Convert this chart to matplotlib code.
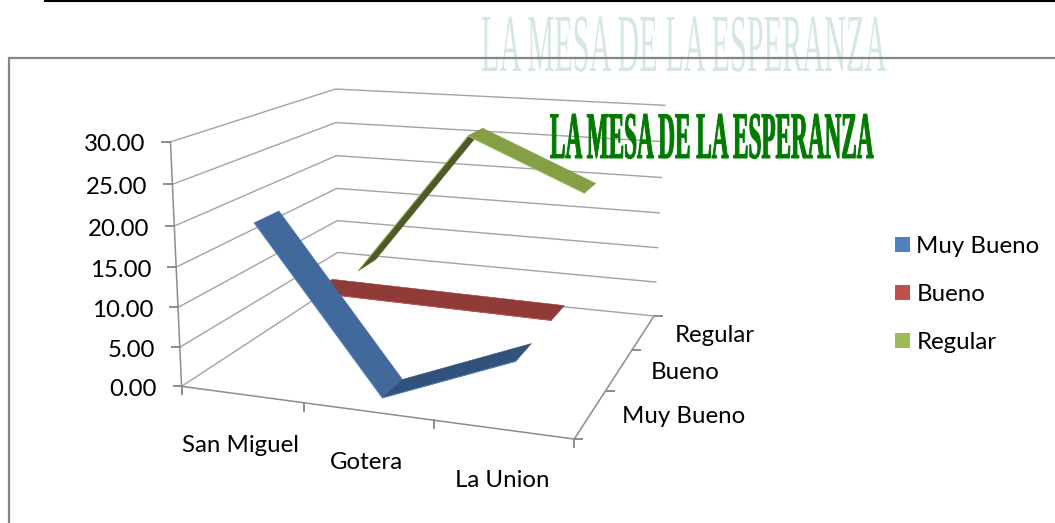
import numpy as np
import matplotlib
matplotlib.use("Agg")
import matplotlib.pyplot as plt
from matplotlib.patches import Patch, Polygon
from matplotlib.patheffects import AbstractPathEffect
from matplotlib.transforms import Affine2D

# Chart data
categories = ["San Miguel", "Gotera", "La Union"]
series_names = ["Muy Bueno", "Bueno", "Regular"]
muy_bueno = [20.0, 0.0, 6.5]
bueno = [7.0, 6.8, 6.6]
regular = [5.8, 26.2, 19.5]
value_ticks = [0, 5, 10, 15, 20, 25, 30]
title_text = "LA MESA DE LA ESPERANZA"

all_values = [muy_bueno, bueno, regular]
face_colors = ["#41699c", "#8f3b38", "#84a045"]
dark_colors = ["#31527a", "#8f3b38", "#4b5a27"]
edge_colors = ["#4f81bd", "#c0504d", "#9bbb59"]
legend_colors = ["#4f81bd", "#c0504d", "#9bbb59"]
grid_color = "#a3a3a3"
axis_color = "#8c8c8c"
FONT = "Lato"
FS = 17.3
ribbon_half = 0.07

# Camera calibration of the 3D box: (x, depth, height) in box units -> picture pixels
box_pts = [(0, 0, 0), (1/3, 0, 0), (2/3, 0, 0), (1, 0, 0),
           (1, 1/3, 0), (1, 2/3, 0), (1, 1, 0), (0, 1, 0),
           (0, 0, 1), (0, 0, 5/6), (0, 0, 2/3), (0, 0, 1/2), (0, 0, 1/3), (0, 0, 1/6),
           (0, 1, 1), (0, 1, 5/6), (0, 1, 2/3), (0, 1, 1/2), (0, 1, 1/3), (0, 1, 1/6),
           (1, 1, 1), (1, 1, 5/6), (1, 1, 2/3), (1, 1, 1/2), (1, 1, 1/3), (1, 1, 1/6)]
pic_pts = [(182, 386), (303, 404), (434, 421), (574, 439),
           (606, 390), (631.5, 350), (655, 315), (338, 284),
           (170, 142), (172, 184), (175, 226), (176.5, 267), (178, 307), (180, 347),
           (336, 89), (336, 122), (336, 156), (336.5, 189), (337, 220), (337.5, 253),
           (665, 105), (663, 142), (661, 178), (659, 213), (657, 248), (656, 282)]


def fit_camera(box, pic):
    rows = []
    rhs = []
    for (x, y, z), (u, v) in zip(box, pic):
        rows.append([x, y, z, 1, 0, 0, 0, 0, -u*x, -u*y, -u*z])
        rhs.append(u)
        rows.append([0, 0, 0, 0, x, y, z, 1, -v*x, -v*y, -v*z])
        rhs.append(v)
    sol = np.linalg.lstsq(np.array(rows, float), np.array(rhs, float), rcond=None)[0]
    return np.append(sol, 1.0).reshape(3, 4)


CAM = fit_camera(box_pts, pic_pts)


def project(x, y, z):
    p = CAM @ np.array([x, y, z, 1.0])
    return p[0] / p[2], p[1] / p[2]


class Stretch(AbstractPathEffect):
    # WordArt look: stretch the glyphs up from the baseline, optional heavier outline
    def __init__(self, k, stroke=0.0):
        super().__init__()
        self.k = k
        self.stroke = stroke

    def draw_path(self, renderer, gc, tpath, affine, rgbFace=None):
        y0 = affine.get_matrix()[1, 2]
        a = affine + Affine2D().translate(0, -y0).scale(1, self.k).translate(0, y0)
        gc0 = renderer.new_gc()
        gc0.copy_properties(gc)
        gc0.set_linewidth(self.stroke)
        gc0.set_foreground(rgbFace)
        renderer.draw_path(gc0, tpath, a, rgbFace)
        gc0.restore()


fig = plt.figure(figsize=(10.55, 5.23), dpi=100)
ax = fig.add_axes([0, 0, 1, 1])
ax.set_xlim(0, 1055)
ax.set_ylim(523, 0)
ax.axis("off")

# pale title behind the frame
t = ax.text(481, 71, title_text, family="Liberation Serif", fontsize=21.8, color="#d5e8de",
            ha="left", va="baseline", zorder=1)
t.set_path_effects([Stretch(2.72)])

# page rule and chart frame
ax.plot([45, 1055], [0.5, 0.5], color="black", lw=1.5, zorder=2)
ax.plot([9, 9, 1055], [523, 58, 58], color="#868686", lw=1.6, zorder=2, solid_joinstyle="miter")

zmax = value_ticks[-1]

# walls
for v in value_ticks:
    z = v / zmax
    pts = [project(0, 0, z), project(0, 1, z), project(1, 1, z)]
    ax.plot([p[0] for p in pts], [p[1] for p in pts], color=grid_color, lw=1.0, zorder=3)
    px, py = project(0, 0, z)
    ax.plot([px - 8, px], [py, py], color=axis_color, lw=1.4, zorder=3)
    ax.text(px - 25, py + 3, "%.2f" % v, family=FONT, fontsize=FS, ha="right", va="center",
            color="black", zorder=6)

# axes lines
for a, b in [((0, 0, 0), (0, 0, 1)), ((0, 0, 0), (1, 0, 0)), ((1, 0, 0), (1, 1, 0))]:
    p, q = project(*a), project(*b)
    ax.plot([p[0], q[0]], [p[1], q[1]], color=axis_color, lw=1.1, zorder=3)

n = len(categories)
for i in range(n + 1):
    px, py = project(i / n, 0, 0)
    ax.plot([px, px], [py, py + 8], color=axis_color, lw=1.4, zorder=3)
for j in range(len(series_names) + 1):
    px, py = project(1, j / len(series_names), 0)
    ax.plot([px, px + 8], [py, py], color=axis_color, lw=1.4, zorder=3)

for i, name in enumerate(categories):
    px, py = project((i + 0.5) / n, 0, 0)
    ax.text(px - 1, py + 51, name, family=FONT, fontsize=FS, ha="center", va="center", zorder=6)
for j, name in enumerate(series_names):
    px, py = project(1, (j + 0.5) / len(series_names), 0)
    ax.text(px + 31, py + 3, name, family=FONT, fontsize=FS, ha="left", va="center", zorder=6)

# ribbons, back series first
for j in reversed(range(len(series_names))):
    vals = all_values[j]
    yc = (j + 0.5) / len(series_names)
    for i in range(n - 1):
        x0 = (i + 0.5) / n
        x1 = (i + 1.5) / n
        z0 = vals[i] / zmax
        z1 = vals[i + 1] / zmax
        quad = [project(x0, yc - ribbon_half, z0), project(x1, yc - ribbon_half, z1),
                project(x1, yc + ribbon_half, z1), project(x0, yc + ribbon_half, z0)]
        col = dark_colors[j] if vals[i + 1] > vals[i] else face_colors[j]
        ax.add_patch(Polygon(quad, closed=True, facecolor=col, edgecolor=col,
                             lw=0.4, zorder=4 + (2 - j) * 0.1))
        ax.plot([quad[0][0], quad[1][0]], [quad[0][1], quad[1][1]], color=edge_colors[j],
                lw=0.7, zorder=4 + (2 - j) * 0.1)

# green title
t = ax.text(550, 158, title_text, family="Liberation Serif", fontsize=16.7, weight="bold",
            color="#007a00", ha="left", va="baseline", zorder=7)
t.set_path_effects([Stretch(2.87, stroke=0.7)])

handles = [Patch(facecolor=c, edgecolor="none") for c in legend_colors]
ax.legend(handles, series_names, loc="upper left", bbox_to_anchor=(890 / 1055, 1 - 231 / 523),
          frameon=False, prop={"family": FONT, "size": FS}, handlelength=0.62, handleheight=0.62,
          handletextpad=0.28, labelspacing=1.13, borderpad=0.2, borderaxespad=0)

fig.savefig("out.png", dpi=100)
